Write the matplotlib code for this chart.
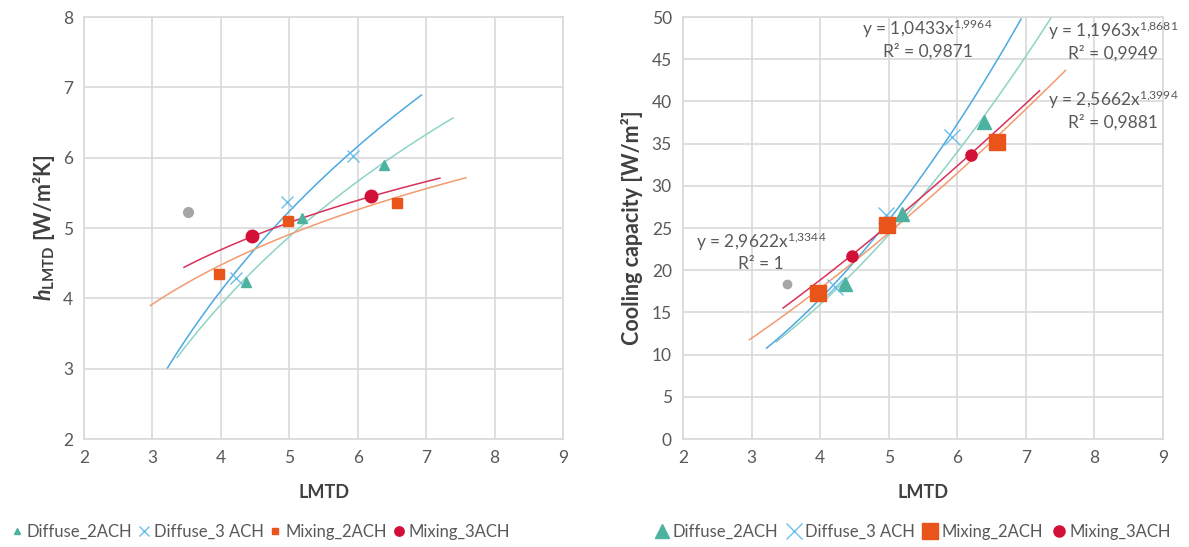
import numpy as np
import matplotlib
matplotlib.use("Agg")
import matplotlib.pyplot as plt

plt.rcParams['font.family'] = ['Lato', 'DejaVu Sans']
plt.rcParams['mathtext.fontset'] = 'custom'
plt.rcParams['mathtext.rm'] = 'Lato'
plt.rcParams['mathtext.bf'] = 'Lato:bold'
plt.rcParams['mathtext.it'] = 'Lato:italic'
plt.rcParams['mathtext.bfit'] = 'Lato:italic:bold'

# values
series = ['Diffuse_2ACH', 'Diffuse_3 ACH', 'Mixing_2ACH', 'Mixing_3ACH']
lmtd = [
    [4.36, 5.19, 6.39],
    [4.22, 4.96, 5.93],
    [3.97, 4.98, 6.58],
    [4.46, 6.20],
]
h_lmtd = [
    [4.23, 5.14, 5.89],
    [4.29, 5.37, 6.02],
    [4.35, 5.10, 5.35],
    [4.88, 5.45],
]
cooling = [
    [18.4, 26.7, 37.6],
    [18.0, 26.6, 35.8],
    [17.3, 25.4, 35.2],
    [21.7, 33.7],
]
# lone grey point (not in legend)
extra_lmtd = 3.52
extra_h = 5.23
extra_cooling = 18.4

# power trendline equations printed on the right chart
eq_a = [1.1963, 1.0433, 2.5662, 2.9622]
eq_b = [1.8681, 1.9964, 1.3994, 1.3344]
eq_a_txt = ['1,1963', '1,0433', '2,5662', '2,9622']
eq_b_txt = ['1,8681', '1,9964', '1,3994', '1,3344']
r2_txt = ['0,9949', '0,9871', '0,9881', '1']
eq_pos = [(8.27, 48.4), (5.57, 48.6), (8.27, 40.2), (3.14, 23.4)]

markers = ['^', 'x', 's', 'o']
mk_color = ['#4DB3A0', '#6CC0EC', '#E9541B', '#D20F37']
line_color = ['#8FD3C6', '#4BA9E2', '#F39A70', '#D8305A']
size_left = [6.5, 9, 6.5, 9]
size_right = [10, 12, 11, 8]
grey = '#A6A6A6'
txt_grey = '#595959'
grid_c = '#D9D9D9'

fig = plt.figure(figsize=(11.89, 5.47), dpi=100)
ax1 = fig.add_axes([0.0707, 0.1974, 0.4029, 0.7715])
ax2 = fig.add_axes([0.5744, 0.1974, 0.4037, 0.7715])


def style_axes(ax, ylim, ystep):
    ax.set_xlim(2, 9)
    ax.set_ylim(*ylim)
    ax.set_xticks(np.arange(2, 10, 1))
    ax.set_yticks(np.arange(ylim[0], ylim[1] + ystep, ystep))
    ax.grid(True, color=grid_c, linewidth=1.2)
    ax.set_axisbelow(True)
    for s in ax.spines.values():
        s.set_color(grid_c)
        s.set_linewidth(1.2)
    ax.tick_params(length=0, labelsize=12.5, labelcolor=txt_grey, pad=8)
    ax.set_xlabel('LMTD', fontsize=13, fontweight='bold', color='#404040', labelpad=13)


# left: h_LMTD with logarithmic trendlines
style_axes(ax1, (2, 8), 1)
for i in range(4):
    x = np.array(lmtd[i])
    y = np.array(h_lmtd[i])
    k, c = np.polyfit(np.log(x), y, 1)
    xs = np.linspace(x.min() - 1, x.max() + 1, 100)
    ax1.plot(xs, k * np.log(xs) + c, color=line_color[i], lw=1.1, zorder=2)
for i in range(4):
    ax1.plot(lmtd[i], h_lmtd[i], ls='none', marker=markers[i], ms=size_left[i],
             color=mk_color[i], mew=1.0, zorder=3, label=series[i])
ax1.plot(extra_lmtd, extra_h, 'o', ms=7, color=grey, zorder=3)
ax1.set_ylabel(r'$\mathbfit{h}_{\mathbf{LMTD}}$ [W/m²K]', fontsize=15.5,
               fontweight='bold', color='#404040', labelpad=4)
ax1.legend(loc='upper center', bbox_to_anchor=(0.37, -0.165), ncol=4, frameon=False,
           fontsize=12, labelcolor=txt_grey, handlelength=0.5, handletextpad=0.35,
           columnspacing=0.45, markerscale=0.75)

# right: cooling capacity with power trendlines
style_axes(ax2, (0, 50), 5)
for i in range(4):
    x = np.array(lmtd[i])
    xs = np.linspace(x.min() - 1, x.max() + 1, 100)
    ax2.plot(xs, eq_a[i] * xs ** eq_b[i], color=line_color[i], lw=1.1, zorder=2)
for i in range(4):
    ax2.plot(lmtd[i], cooling[i], ls='none', marker=markers[i], ms=size_right[i],
             color=mk_color[i], mew=1.0, zorder=3, label=series[i])
ax2.plot(extra_lmtd, extra_cooling, 'o', ms=6, color=grey, zorder=3)
for i in range(4):
    px, py = eq_pos[i]
    ax2.text(px, py, 'y = ' + eq_a_txt[i] + 'x' + r'$\mathregular{^{' + eq_b_txt[i].replace(',', '{,}') + '}}$',
             ha='center', va='center', fontsize=12.5, color=txt_grey, zorder=4)
    ax2.text(px, py - 2.7, 'R² = ' + r2_txt[i], ha='center', va='center',
             fontsize=12.5, color=txt_grey, zorder=4)
ax2.set_ylabel('Cooling capacity [W/m²]', fontsize=15.5, fontweight='bold',
               color='#404040', labelpad=6)
ax2.legend(loc='upper center', bbox_to_anchor=(0.48, -0.165), ncol=4, frameon=False,
           fontsize=12, labelcolor=txt_grey, handlelength=0.7, handletextpad=0.3,
           columnspacing=0.6, markerscale=1.0)

fig.savefig('out.png', dpi=100)
